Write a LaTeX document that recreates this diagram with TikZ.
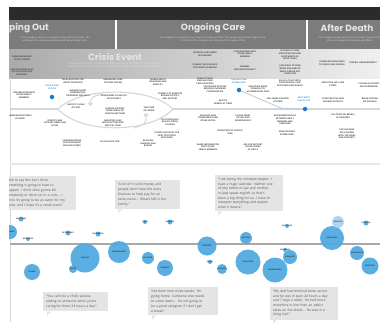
\documentclass[tikz,border=0pt]{standalone}
\usepackage{fontspec}
\setmainfont{Open Sans}
\newfontfamily\titlef{Poppins}
\usetikzlibrary{arrows.meta}
\definecolor{barc}{HTML}{2B2B2B}
\definecolor{headc}{HTML}{7C7C7C}
\definecolor{linec}{HTML}{D6D6D6}
\definecolor{dotc}{HTML}{1A7CD0}
\definecolor{bluet}{HTML}{3D9BDC}
\definecolor{bub}{HTML}{4EA8E0}
\definecolor{bubpale}{HTML}{A9D3F0}
\definecolor{quotec}{HTML}{E4E4E4}
\definecolor{axisc}{HTML}{A8A8A8}
\definecolor{bline}{HTML}{B7CADB}
\tikzset{
 lab/.style={font=\fontsize{2.1}{2.6}\selectfont\bfseries, align=center, text=black!72, inner sep=0pt},
 bluelab/.style={lab, text=bluet},
 desc/.style={font=\fontsize{2.3}{3}\selectfont, align=center, text=white!88!black, inner sep=0pt},
 ttl/.style={font=\titlef\bfseries\fontsize{9}{10}\selectfont, text=white!90!black, inner sep=0pt},
 quotebox/.style={fill=quotec, font=\fontsize{3.3}{4.9}\selectfont, text=black!68, align=left, inner sep=3pt, anchor=north west},
 bubble/.style={fill=bub, draw=none, circle, inner sep=0pt, opacity=0.92},
 blab/.style={font=\fontsize{1.8}{2}\selectfont\bfseries, text=black!80, inner sep=0pt},
 flow/.style={draw=linec, line width=1.1pt},
 dotn/.style={circle, fill=dotc, inner sep=0pt, minimum size=4.5pt},
 tip/.style={-{Straight Barb[length=2.2pt,width=4.5pt]}},
}
\newcommand\bubl[4]{\node[bubble, minimum size=#3] (#1) at #2 {}; \node[blab] at (#1) {#4};}
\begin{document}
\begin{tikzpicture}[x=1pt,y=-1pt]
\useasboundingbox (0,0) rectangle (380,322);
\fill[white] (0,0) rectangle (380,322);
\begin{scope}
\clip (9,0) rectangle (380,322);
% header bands
\fill[barc] (9,7) rectangle (380,20);
\fill[headc] (9,20) rectangle (380,48.5);
\draw[white, line width=1.2pt] (116,20) -- (116,48.5);
\draw[white, line width=1.2pt] (307,20) -- (307,48.5);
\shade[left color=black!33, right color=black!6] (9,49) rectangle (380,78);
% titles
\node[ttl, anchor=west] (t1) at (9,28.5) {ping Out};
\node[ttl] (t2) at (213,28.5) {Ongoing Care};
\node[ttl] (t3) at (347,28.5) {After Death};
\node[desc] (t1d) at (55,39) {as the caregiver steps in and begins to help with some tasks. The\\individual still lives alone and may need help with daily tasks.};
\node[desc] (t2d) at (213,39) {The caregiver's role grows as care needs increase over time. The caregiving becomes a high priority\\in the life of the caregiver and impacts all other areas of life.};
\node[desc] (t3d) at (350,39) {The caregiver grieves the loss of their loved one and is left\\alone to manage their finances and affairs.};
\node[ttl] (t4) at (115,57) {Crisis Event};
\node[desc] (t4d) at (115,65.5) {The caregiver's world is turned upside down by an event that leads to the care recipient\\needing more help than before, often pulling the caregiver into a state of shock and panic.};
% crisis band labels
\node[lab] (c1) at (22,58) {CAREGIVER BEGINS\\TO FEEL STRAIN};
\node[lab] (c2) at (22,72) {CARE RECIPIENT FALLS\\OR IS HOSPITALIZED\\SUDDENLY};
\node[lab] (c3) at (205,54) {GROWING CARE NEEDS\\RECOGNIZED};
\node[lab] (c4) at (245,54) {COORDINATING WITH\\OTHER FAMILY\\MEMBERS};
\node[lab] (c5) at (290,55) {SETTING UP HOME\\MODIFICATIONS AND\\EQUIPMENT FOR\\DAILY LIVING};
\node[lab] (c6) at (205,66) {CONNECT WITH SERVICE\\PROVIDERS AS NEEDED};
\node[lab] (c7) at (245,68) {MANAGE\\MEDICATIONS DAILY};
\node[lab] (c8) at (290,70) {LOSE SIGHT OF OWN\\NEEDS AND HEALTH\\WHILE CARING FOR\\LOVED ONE};
\node[lab] (c9) at (332,63) {COMMUNICATING NEWS\\TO FAMILY AND FRIENDS};
\node[lab] (c10) at (363,63) {FUNERAL ARRANGEMENTS};
% frame lines
\draw[linec, line width=0.8pt] (10,78) -- (10,322);
\draw[black!9, line width=2pt] (10,164) -- (380,164);
% flow line and lens
\coordinate (ml) at (10,109);
\coordinate (mr) at (380,109);
\coordinate (lensL) at (58,109);
\coordinate (lensR) at (173,109);
\draw[flow] (ml) -- (lensL);
\draw[flow] (lensR) -- (mr);
\draw[flow] (lensL) .. controls (80,87) and (150,86) .. (lensR);
\draw[flow] (lensL) .. controls (80,134) and (150,134) .. (lensR);
\coordinate (ia) at (103,94);
\coordinate (ib) at (90,106);
\coordinate (ic) at (134,128);
\coordinate (id) at (146,113);
\draw[flow, tip] (ia) .. controls (91,97) .. (ib);
\draw[flow, tip] (ic) .. controls (146,124) .. (id);
% blue milestones
\node[dotn] (d1) at (52,97) {};
\node[dotn] (d2) at (239,90) {};
\node[dotn] (d3) at (305,109) {};
\coordinate (bk) at (282,108.5);
\draw[bline, line width=0.8pt] (d2) -- (bk) -- (d3);
\node[bluelab] (b1) at (52,87.5) {CRISIS EVENT\\OCCURS};
\node[bluelab] (b2) at (239,81) {CARE ROUTINE\\ESTABLISHED};
\node[bluelab] (b3) at (304,99.5) {RECIPIENT'S\\END OF LIFE};
% middle labels
\node[lab] (m1) at (73,81) {TALKS WITH DOCTOR\\ABOUT DIAGNOSIS};
\node[lab] (m2) at (113,81) {RESEARCHES CARE\\OPTIONS ONLINE};
\node[lab] (m3) at (158,82) {LEARNS ABOUT\\INSURANCE AND\\BENEFITS};
\node[lab] (m4) at (205,81) {CONFLICT WITH\\SIBLINGS OVER\\CARE DECISIONS};
\node[lab] (m5) at (290,83) {BUILD A TRUST WITH\\PROFESSIONAL CARE\\PROVIDERS AND NURSES};
\node[lab] (m6) at (333,84.5) {EXECUTING WILL AND\\ESTATE};
\node[lab] (m7) at (369,85) {CLOSING ACCOUNTS\\AND PAPERWORK};
\node[lab] (m8) at (24,95) {CONVERSATION WITH\\OTHER FAMILY\\MEMBERS};
\node[lab] (m9) at (78,93) {MANAGE SHORT\\TERM MEDICAL\\TREATMENT AND BILLS};
\node[lab] (m10) at (114,97) {SHARE NEWS OF HEALTH\\WITH FAMILY};
\node[lab] (m11) at (170,96) {CONNECT TO AGENCIES\\RESEARCH TOOLS\\AND SUPPORT};
\node[lab] (m12) at (215,89) {PROCEDURE ROUTINE\\REQUIRES INCREASED\\COORDINATION};
\node[lab] (m13) at (258,89) {ADJUSTING WORK\\SCHEDULE TO\\ACCOMMODATE CARE};
\node[lab] (m14) at (223,102) {RESPITE\\NEEDED AT TIMES};
\node[lab] (m15) at (278,100) {FEEL MORE ISOLATED\\AT TIMES};
\node[lab] (m16) at (333,100) {ACCEPTING THE NEW\\NORMAL WITHOUT};
\node[lab] (m17) at (370,100) {BEGIN SORTING\\BELONGINGS};
\node[lab] (m18) at (76,106) {ANXIETY IS HIGH\\AT FIRST};
\node[lab] (m19) at (115,111) {SEEKING SUPPORT\\FROM FAMILY OR\\HEALTHCARE TEAM};
\node[lab] (m20) at (149,109) {TAKE TIME\\OFF WORK};
\node[lab] (m21) at (20,117) {LEARN NEW ROUTINES\\AT HOME};
\node[lab] (m22) at (55,123) {IDENTIFY NEW\\SUPPORT NEEDS AND\\ROLES};
\node[lab] (m23) at (113,123) {NEGOTIATE CARE\\WITH DOCTORS AND\\MEDICAL TEAM};
\node[lab] (m24) at (170,122) {SOLUTIONS HELP\\REDUCE STRESS\\AT HOME};
\node[lab] (m25) at (208,118) {EVALUATE CARE\\COMMITMENT AND\\OTHER DUTIES};
\node[lab] (m26) at (243,118) {LOSING SENSE\\OF SELF AND\\INDEPENDENCE};
\node[lab] (m27) at (285,120) {RESENTMENT BUILDS\\BETWEEN FAMILY\\MEMBERS AND\\CAREGIVER};
\node[lab] (m28) at (343,116) {FILE TAXES ON BEHALF\\OF DECEASED};
\node[lab] (m29) at (167,135.5) {UPDATE CHECKLIST FOR\\NEXT STEPS WITH\\PROVIDERS};
\node[lab] (m30) at (230,132) {TRANSITION TO HOSPICE\\CARE};
\node[lab] (m31) at (287,133) {NEW ROUTINES\\ESTABLISHED};
\node[lab] (m32) at (347,134) {DISCUSS WHAT\\WILL HAPPEN\\WITH THE HOME\\AND PROPERTY};
\node[lab] (m33) at (72,143) {COMMUNICATING\\WITH PROVIDERS\\AND EMPLOYERS};
\node[lab] (m34) at (110,142) {RE-ALLOCATE TIME};
\node[lab] (m35) at (148,143.5) {RE-ASSESS\\FINANCES AND\\BUDGET};
\node[lab] (m36) at (208,147) {SHARE INFORMATION\\WITH OTHER\\FAMILY MEMBERS};
\node[lab] (m37) at (253,147) {ASK FOR SUPPORT\\FROM OTHERS\\IN CIRCLE};
% quotes (upper)
\node[quotebox, text width=66pt] (q1) at (4,176) {able to say this but I think\\something is going to have to\\happen. I think she's gonna kill\\somebody or drive car in a curb... I\\think it's going to be an event for my\\mom, and I hope it's a small event.”};
\node[quotebox, text width=59pt] (q2) at (115,180) {“A lot of it costs money and\\people don't have the extra\\finances to help pay for an\\extra nurse... What's left is the\\family.”};
\fill[quotec] ([xshift=3pt]q2.south west) -- ++(0,4) -- ++(4,-4) -- cycle;
\node[quotebox, text width=62pt, font=\fontsize{3.3}{4.6}\selectfont] (q3) at (215,175) {“I am being the schedule keeper. I\\have a huge calendar. Neither one\\of (my father-in-law and mother-\\in-law) speak english so that's\\been a big thing for us. I have to\\interpret everything and explain\\what it means.”};
\fill[quotec] ([xshift=3pt]q3.south west) -- ++(0,4) -- ++(4,-4) -- cycle;
% quotes (lower)
\node[quotebox, text width=59pt] (q4) at (43,292) {“You can't be a child, spouse,\\adding to someone when you're\\caring for them 24 hours a day.”};
\fill[quotec] ([xshift=4pt]q4.south west) -- ++(0,4) -- ++(4,-4) -- cycle;
\node[quotebox, text width=64pt] (q5) at (148,287) {“I've been here three weeks. I'm\\going home. Someone else needs\\to come down... I'm not going to\\be a good caregiver if I don't get\\a break.”};
\fill[quotec] ([xshift=4pt]q5.south west) -- ++(0,4) -- ++(4,-4) -- cycle;
\node[quotebox, text width=62pt, font=\fontsize{3.3}{4.6}\selectfont] (q6) at (270,287) {“My dad had terminal bone cancer\\and he was in pain 24 hours a day\\and 7 days a week. He had more\\morphine in him than an addict\\takes on the street... He was in a\\living hell.”};
\fill[quotec] ([xshift=3pt]q6.south west) -- ++(0,4) -- ++(4,-4) -- cycle;
% emotion axis
\draw[axisc, line width=2pt] (10,244) -- (380,244);
% bubbles above
\bubl{e1}{(10,232)}{14pt}{RESIGNED}
\bubl{e2}{(21,219)}{5pt}{HOLLOWED}
\bubl{e3}{(28,239)}{4pt}{NEGLECTED}
\bubl{e4}{(68,233)}{5pt}{DETERMINED}
\bubl{e5}{(98,234)}{5pt}{FRUSTRATED}
\bubl{e6}{(145,222)}{4pt}{TIRED}
\bubl{e7}{(170,222)}{5pt}{WORRIED}
\bubl{e8}{(207,246)}{19pt}{RESIGNED}
\bubl{e9}{(246,238)}{12pt}{HOPEFUL}
\bubl{e10}{(287,226)}{4pt}{MOTIVATED}
\bubl{e11}{(332,238)}{24pt}{EMOTIONAL}
\node[bubble, fill=bubpale, minimum size=12pt] (e12) at (338,222) {};
\node[blab] at (e12) {RELIEVED};
\bubl{e13}{(366,223)}{5pt}{SATISFIED}
% bubbles below
\bubl{f1}{(85,258)}{29pt}{ANXIOUS}
\bubl{f2}{(119,252)}{22pt}{OVERWHELMED}
\bubl{f3}{(148,258)}{12pt}{ISOLATED}
\bubl{f4}{(165,268)}{16pt}{STRESSED}
\bubl{f5}{(32,272)}{16pt}{SCARED}
\bubl{f6}{(73,269)}{8pt}{GUILTY}
\bubl{f7}{(248,262)}{25pt}{EXHAUSTED}
\bubl{f8}{(275,270)}{25pt}{HEARTBROKEN}
\bubl{f9}{(290,257)}{14pt}{CONFUSED}
\bubl{f10}{(285,250)}{4pt}{UNCERTAIN}
\bubl{f11}{(210,262)}{4pt}{ANGRY}
\bubl{f12}{(222,269)}{10pt}{HELPLESS}
\bubl{f13}{(357,253)}{14pt}{DISTRAUGHT}
\bubl{f14}{(370,266)}{17pt}{DEPRESSED}
\end{scope}
\end{tikzpicture}
\end{document}
